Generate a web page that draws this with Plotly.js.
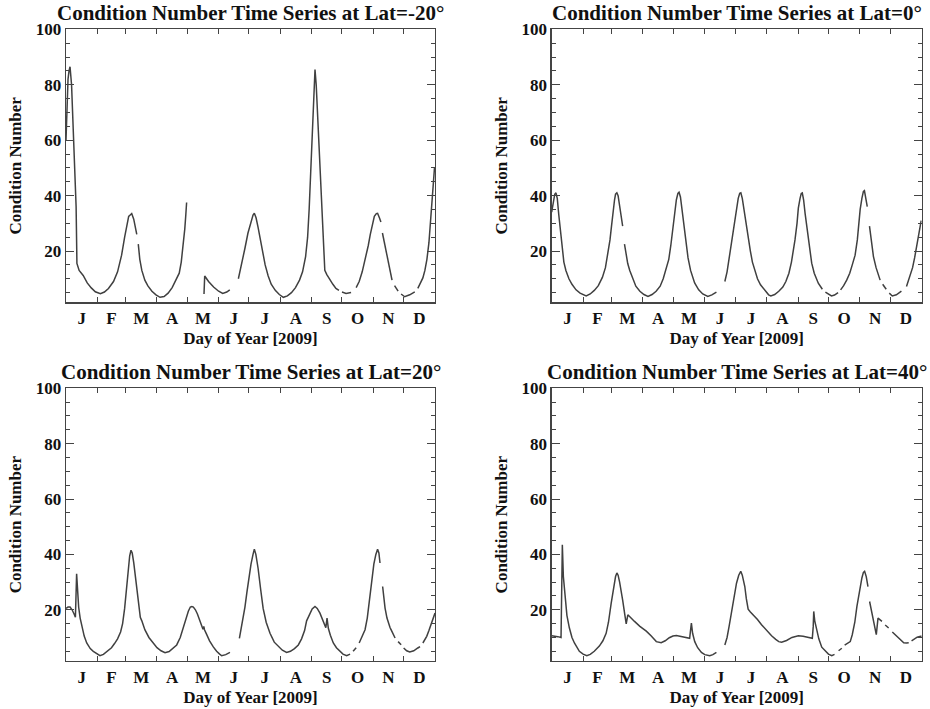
<!DOCTYPE html>
<html>
<head>
<meta charset="utf-8">
<script src="https://cdn.plot.ly/plotly-3.0.1.min.js"></script>
<style>html,body{margin:0;padding:0;background:#fff;}#chart{width:930px;height:709px;}</style>
</head>
<body>
<div id="chart"></div>
<script>
// Month tick labels (placed mid-month) and month boundaries (tick marks)
const monthLabels = ['J','F','M','A','M','J','J','A','S','O','N','D'];
const monthMid = [15.5, 45, 74.5, 105, 135.5, 166, 196.5, 227.5, 258, 288.5, 319, 349.5];
const monthStart = [31, 59, 90, 120, 151, 181, 212, 243, 273, 304, 334];
const yTicks = [20, 40, 60, 80, 100];

const panelTitles = [
  'Condition Number Time Series at Lat=-20°',
  'Condition Number Time Series at Lat=0°',
  'Condition Number Time Series at Lat=20°',
  'Condition Number Time Series at Lat=40°'
];

// Lat = -20
const dayS20 = [0,1,2,3,4,5.5,7,8.5,10,10.8, 13,17,21,25,29,34,38,42,47,51, 55,58,60,62,63.5,65,67,69,70, null,
  71.5,73,75,78,81,85,89,93,97,101, 105,109,112,114,116,117.5,118.5,119.3, null,
  136.5,137.2,141,146,151,155,159,162, null,
  170.5,174,177,180,183,185,186.3,188,190,192, 194,197,200,203,207,211,215,219,223,227,
  231,234,237,239,240.5,242,243.5,245,246.3,247.5, 249,250.5,252,253.5,255,256,258,261,264,267, 270, null,
  273,277,282, null,
  287,290,293,296,299,301,303,305,307,308.2, 310,311.5, null,
  313,315,317,318.5,319.3,320.5,321.5,322.5, null,
  325,328.5, null,
  331.5,335,340,345, null,
  348,351,353,355,357,359,360.5,362,363.5,364.5];
const condS20 = [60,72,82,85,86.5,80,64,50,36,15.5, 13,11.2,8.5,6.7,5.3,4.6,5.2,6.5,9,12.5, 18.5,25,29.5,32.5,33,33.5,31.5,27.5,26, null,
  22.5,17,13,9.5,7.4,5.5,4.2,3.3,3.6,4.8, 6.8,9.5,12,16,22,28,33,37.5, null,
  4.5,11,9,7,5.5,4.7,5.2,6, null,
  10,15.5,21,26.5,31,33,33.6,32,28.5,24.5, 20,15,11,8,5.8,4.3,3.3,3.8,5,6.8,
  9.5,12.5,18,25,35,48,62,77,85.5,80, 68,55,44,33,20,13,11.5,9.5,8,6.5, 5.8, null,
  5.2,4.7,5, null,
  6.8,9,12.5,17,22,26,30,32.5,33.5,33.6, 32,30.5, null,
  26.5,23,18.6,16.5,15,13,10.5,9.5, null,
  7.5,5.5, null,
  4.5,3.5,4.2,5.3, null,
  6.5,8.5,10.3,13,17,23,30,38,45,50];

// Lat = 0
const dayEq = [0,1.5,3,4.2,5.5,7,8.5,10,12,14, 17,20,24,28,32,34,38,42,46,50, 53,55.5,57.5,59,60.5,62,63,64.3,65.5,67, 68.5,70, null,
  71.8,73.5,75,77,80,83,87,91,95,99, 103,107,110,113,115.5,117.5,119.5,121.3,123,124.5, 125.6,127,128.5,130.2,132,134.5,137,141,145,149, 154,158,162.5, null,
  170.8,173,175.7,178,180,182,184,185.5,186.6,188, 190,192,193.8,196,198,200.4,203,206,210,214,
  216.2,220,224,228,231,234,236.5,238.3,240,242, 243.3,245,246.2,247.2,248.5,250,251.5,253.5,256.5,259, 263,267, null,
  270,274,276,279,282.5, null,
  285,288,291,294,296.5,299.3,301.5,303,304.3,306, 307.5,308.5,309.8,311.3, null,
  313.5,315.5,317.4,320,322.4,324, null,
  326.5,330, null,
  333,336,340,345, null,
  350,352,354,356,358,360.3,362,364.5];
const condEq = [34,38,40.5,41,39,33,27,21,16,13, 10,8,6,4.8,4,3.8,4.5,5.8,7.5,10.5, 14,19,24,29,34.5,38.5,40.5,41,40,36.5, 32,29, null,
  22.5,18.5,15.5,13,10,7.3,5.5,4.3,3.6,4.3, 5.5,7.3,10,13.5,17,22,28,34.5,38.5,40.8, 41.2,39.5,35,30,24,17.5,13,8.5,6,4.5, 3.6,4.2,5.2, null,
  9,12.5,19,25,30,35,39,40.8,41,39, 34,29,25,20,16,13,10,7.8,5.8,4.2,
  3.8,4.3,5.5,7,9,12,16,19.5,24,30, 35.5,39,40.8,41,38.5,33.5,29,23,15.6,12, 8.4,6.2, null,
  5.2,4.1,3.8,4.1,5, null,
  6,7.5,9.5,12,15,18.5,24,30,35,39, 41.5,41.8,39.5,36, null,
  29,23,18,14,11,9.5, null,
  8,6.2, null,
  4.8,3.8,4.2,5.5, null,
  7.2,9.5,11.5,14,17.5,22,25.5,31];

// Lat = 20
const dayN20 = [0,2,4,6,8,9.3,10.5,11.5,12.5,14, 16,18,20.5,24,27,30,33.6,37,41,45, 48,51,54,56,58,60,61.6,63,64.3,65.5,
  67,68.5,70,71.5,72.5,73.5,75,78,82,86.4, 90,94,98,102,106,109.5,113,116,118.5,121, 123,124.5,126,128,130,132,134,135.5,136.3,137,
  139,142,145.7,149,152,154,158,162.2, null,
  171.5,174,177,179,181,183,185,186.3,187.8,190, 192.5,195,198,201.8,206,210,214,218.2,222,226,
  229.8,233,236,238,241,243.5,246.3,248.5,251.2,254, 256.2,257,258.2,259.5,261.5,264.4,267.5,271,274,277.6, 281, null,
  284,287, null,
  290,293,295.8,298,300,302.4,304.5,306.5,308.2,309.5, 310.6, null,
  313.2,314.5,315.6,317.5,319.5,320.5,322,325.5, null,
  328.5,331.5, null,
  334,337,340,344,348,350.2, null,
  353,356.8,359,362,365];
const condN20 = [20.5,21,21,20,18.5,17.3,33,26,21,17, 13.5,10.5,8,6,5,4.2,3.4,3.9,5,6.3, 7.8,9.5,12,15,20.5,28,35,39.5,41.5,40.5,
  37,32,26.5,22.5,19,17.3,16,12.8,10,8, 6.3,5.2,4.5,4.9,6,7.3,10,13.5,17,19.5, 21,21.2,21,20,18.5,16.5,14.7,13,14,12.8,
  11.2,8.8,6.6,5,4,3.4,3.8,4.6, null,
  9.7,14.5,21,26.5,32,36.5,40,41.9,40,35, 27.5,20.5,15.5,11.5,8.3,6.7,5.4,4.6,5,6,
  7.3,9.5,12.5,16,18.5,20.3,21.2,20.5,18.8,16, 14,13.5,17,13.3,10.8,8,6.3,5,4,3.4, 4, null,
  5,6.3, null,
  8,10.5,12.8,17,23,30.9,36.5,40,41.9,40.5, 36.9, null,
  28.4,23.5,20.6,17,14,13.6,12.5,9.8, null,
  8.5,7.4, null,
  6.2,5.2,4.8,5.2,6.2,6.7, null,
  8,10.4,12.5,15.5,18.8];

// Lat = 40
const dayN40 = [0,3,6,9.2,10.5,11.5,12.5,13.5,15, 17.4,20,22.4,25,27.3,31,34.6,38,42,47, 50.5,53.7,56,58.7,61,63,64.3,65.5,67,68.5,
  70,72,73.5,75.1,78,81.7,87,93.3,98,103.2, 108,112,116,119.6,123,126.3,131,136.1,136.8,137.8, 139,141.1,144,147.7,151,155.9,159,162.5, null,
  170.8,173,175,177.3,179.5,182.3,184.5,186.5,188,189.5, 190.5,192,193.8,196,198.8,203,207,212,216.9,221,
  224,226.8,231.7,237,243.3,248,253.2,257.1,258,258.5, 259.5,261.4,263.5,266.4,270,273,276.3,279, null,
  283,286.2, null,
  289,292,294.5,296.5,299,301.1,303.5,306,307.5,308.7, 310.3,312, null,
  313.6,315.5,317.6,319,320.2,321.9,323.5,325.8, null,
  329,332.4, null,
  336,339,342,344.5,347.3,350,352.2, null,
  355,357.5,360.5,364,365];
const condN40 = [10.6,10.5,10.3,10,43.5,32,27,23,18, 13.5,10,8,6.2,5,4,3.4,3.9,5,6.9, 8.8,11.5,15.5,22.4,28,32,33.3,32.5,30,27.3,
  23.5,18.5,14.9,18.2,17.3,15.8,14,12.3,10.6,8.5, 8.1,8.8,9.9,10.5,10.7,10.4,10.1,9.7,12,15.2, 11.5,8.5,6.3,4.6,3.8,3.4,3.8,4.6, null,
  7.3,10,14,18.8,24,29.6,32.5,33.9,32.5,30, 28.4,24,20.2,19.2,18.2,16.5,14.6,12.5,10.6,9.3,
  8.5,8.3,8.9,10,10.6,10.4,10.1,9.7,14,19.4, 16,12.8,9.5,6.5,5,4,3.4,3.9, null,
  5.2,6.1, null,
  7.2,8,8.5,11,15.5,21.2,27,31.5,33.5,33.9, 32,28.4, null,
  23,19.5,16.4,13.5,11,17,16.5,15.8, null,
  14.5,13.4, null,
  12,11,10,9,8.1,8,8.1, null,
  8.8,9.5,10.1,10.4,10.4];

const serif = 'Liberation Serif, Times New Roman, serif';
const txtColor = '#111';
const axColor = '#444';

const seriesX = [dayS20, dayEq, dayN20, dayN40];
const seriesY = [condS20, condEq, condN20, condN40];
const suffix = ['', '2', '3', '4'];

const data = seriesX.map((xs, i) => ({
  type: 'scatter', mode: 'lines',
  x: xs, y: seriesY[i],
  xaxis: 'x' + suffix[i], yaxis: 'y' + suffix[i],
  line: {color: '#404040', width: 1.5},
  connectgaps: false, hoverinfo: 'skip', showlegend: false
}));

const W = 930, H = 709;
const colX = [[66, 435], [551.7, 921.7]];
const rowY = [[29.3, 302.3], [388.3, 661]];

function xAxis(dom, anchor) {
  return {
    domain: dom, anchor: anchor, range: [0, 365], fixedrange: true,
    tickmode: 'array', tickvals: monthMid, ticktext: monthLabels, ticks: '',
    showline: true, mirror: 'allticks', linecolor: axColor, linewidth: 1.3,
    showgrid: false, zeroline: false,
    tickfont: {family: serif, size: 17, color: txtColor, weight: 'bold'},
    minor: {tickmode: 'array', tickvals: monthStart, ticks: 'inside', ticklen: 5, tickwidth: 1, tickcolor: axColor},
    title: {text: 'Day of Year [2009]', font: {family: serif, size: 17, color: txtColor, weight: 'bold'}, standoff: 5}
  };
}
function yAxis(dom, anchor) {
  return {
    domain: dom, anchor: anchor, range: [1.5, 100], fixedrange: true,
    tickmode: 'array', tickvals: yTicks, ticks: 'inside', ticklen: 8, tickwidth: 1, tickcolor: axColor,
    showline: true, mirror: 'allticks', linecolor: axColor, linewidth: 1.3,
    showgrid: false, zeroline: false,
    tickfont: {family: serif, size: 17, color: txtColor, weight: 'bold'},
    minor: {tickmode: 'linear', tick0: 0, dtick: 5, ticks: 'inside', ticklen: 4, tickwidth: 1, tickcolor: axColor},
    title: {text: 'Condition Number', font: {family: serif, size: 17, color: txtColor, weight: 'bold'}, standoff: 9}
  };
}

const layout = {
  width: W, height: H,
  margin: {l: 0, r: 0, t: 0, b: 0},
  paper_bgcolor: '#fff', plot_bgcolor: '#fff',
  annotations: [],
  showlegend: false
};

for (let i = 0; i < 4; i++) {
  const c = colX[i % 2], r = rowY[Math.floor(i / 2)];
  const xd = [c[0] / W, c[1] / W];
  const yd = [1 - r[1] / H, 1 - r[0] / H];
  layout['xaxis' + suffix[i]] = xAxis(xd, 'y' + suffix[i]);
  layout['yaxis' + suffix[i]] = yAxis(yd, 'x' + suffix[i]);
  layout.annotations.push({
    text: panelTitles[i], xref: 'paper', yref: 'paper',
    x: (xd[0] + xd[1]) / 2, y: 1 - (r[0] - 16) / H,
    xanchor: 'center', yanchor: 'middle', showarrow: false,
    font: {family: serif, size: 21, color: txtColor, weight: 'bold'}
  });
}

Plotly.newPlot('chart', data, layout, {displayModeBar: false, staticPlot: true});
</script>
</body>
</html>
